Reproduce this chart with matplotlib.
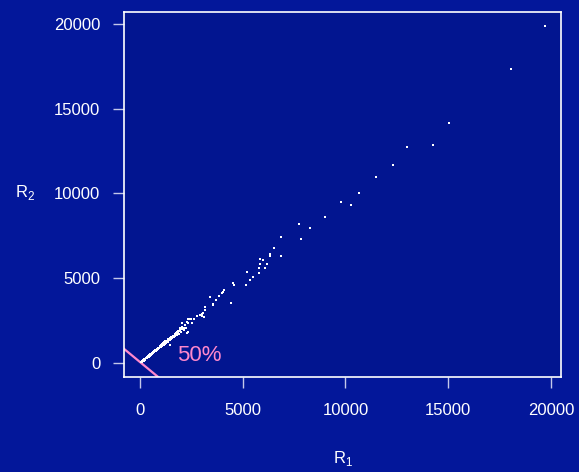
import matplotlib
matplotlib.use("Agg")
import matplotlib.pyplot as plt
import numpy as np

plt.rcParams["font.family"] = ["Liberation Sans", "DejaVu Sans"]
plt.rcParams["mathtext.fontset"] = "custom"
plt.rcParams["mathtext.rm"] = "Liberation Sans"

FUNDO_FIG = "#03179a"
FUNDO_EIXO = "#021590"
ROSA = "#ff88cc"

# faixa densa perto da origem
faixaX = [40, 70, 90, 120, 150, 170, 200, 230, 260, 280, 310, 340, 370, 390, 420, 450,
          470, 500, 530, 560, 590, 610, 640, 670, 700, 720, 750, 780, 810, 840, 860, 890,
          920, 950, 980, 1000, 1030, 1060, 1090, 1120, 1150, 1180, 1200, 1230, 1260, 1290,
          1320, 1350, 1380, 1410, 1440, 1470, 1500, 1530, 1560, 1600, 1640, 1680, 1720,
          1760, 1800, 1850, 1900, 1950, 2000, 2060, 2120, 2200, 2260, 2350,
          100, 180, 250, 330, 400, 480, 550, 630, 700, 780, 850, 930, 1010, 1080, 1160,
          1240, 1310, 1390, 1460, 1540, 1620, 1700, 1780, 1870, 1960, 2050, 2150]
faixaY = [60, 50, 110, 90, 160, 130, 210, 190, 250, 300, 280, 350, 330, 400, 380, 460,
          430, 520, 480, 570, 540, 630, 600, 680, 650, 740, 700, 790, 760, 850, 820, 910,
          870, 980, 930, 1050, 990, 1100, 1030, 1160, 1090, 1220, 1140, 1270, 1200, 1320,
          1250, 1390, 1300, 1440, 1360, 1500, 1420, 1560, 1470, 1620, 1520, 1700, 1580,
          1790, 1660, 1880, 1740, 1960, 1830, 2100, 1930, 2220, 2050, 2380,
          60, 170, 220, 310, 370, 450, 510, 590, 680, 730, 800, 900, 960, 1070, 1120,
          1180, 1280, 1350, 1420, 1500, 1560, 1640, 1720, 1800, 1900, 1980, 2080]

# pontos espalhados
soltosX = [2030, 2270, 2430, 2515, 2760, 2920, 3160, 3080, 3570, 2270, 2350, 1380, 1460,
           1790, 1950, 2630, 2470, 2320, 2760, 3000, 3000, 3130, 3160, 3570, 4440,
           3420, 3700, 3860, 3970, 4070, 4020, 4540, 4570, 5140, 5370, 5510, 5220, 5790,
           5770, 6100, 5850, 6180, 5820, 5990, 6310, 6340, 6860, 6520, 6850, 7850, 7740,
           8270, 9020, 9800, 10270, 10640, 11470, 12300, 12990, 14260, 15020, 18070, 19710]
soltosY = [2340, 2440, 2580, 2340, 2770, 2830, 3320, 2930, 3480, 1750, 1850, 1260, 1060,
           1850, 2050, 2610, 2600, 2600, 2770, 2890, 2770, 2710, 3130, 3440, 3540,
           3910, 3740, 3970, 4110, 4310, 4200, 4740, 4600, 4620, 4920, 5090, 5370, 5290,
           5590, 5620, 5820, 5860, 6150, 6100, 6310, 6450, 6310, 6770, 7420, 7300, 8200,
           7960, 8600, 9500, 9340, 10050, 10970, 11700, 12740, 12840, 14180, 17360, 19900]

fig = plt.figure(figsize=(5.79, 4.72), dpi=100, facecolor=FUNDO_FIG)
ax = fig.add_axes([124 / 579, 1 - 377 / 472, (561 - 124) / 579, (377 - 12) / 472])
ax.set_facecolor(FUNDO_EIXO)

ax.scatter(faixaX + soltosX, faixaY + soltosY, s=4.5, marker="s", c="white", linewidths=0, zorder=3)

linhaX = np.array([-2000, 2000])
ax.plot(linhaX, 55 - linhaX, color=ROSA, lw=1.6, zorder=2)
ax.text(1800, 420, "50%", color=ROSA, fontsize=16, va="center", ha="left")

ax.set_xlim(-780, 20490)
ax.set_ylim(-826, 20708)
ax.set_xticks([0, 5000, 10000, 15000, 20000])
ax.set_yticks([0, 5000, 10000, 15000, 20000])
ax.tick_params(axis="both", colors="#c4c8ea", length=8, width=1, labelcolor="white", labelsize=12)
ax.tick_params(axis="x", pad=11)
ax.tick_params(axis="y", pad=9)
for lado in ax.spines.values():
    lado.set_color("white")
    lado.set_linewidth(1.2)

fig.text(343 / 579, 1 - 458 / 472, r"$\mathrm{R}_1$", color="white", fontsize=12, ha="center", va="center")
fig.text(25 / 579, 1 - 193 / 472, r"$\mathrm{R}_2$", color="white", fontsize=12, ha="center", va="center")

fig.savefig("out.png", dpi=100, facecolor=FUNDO_FIG)
